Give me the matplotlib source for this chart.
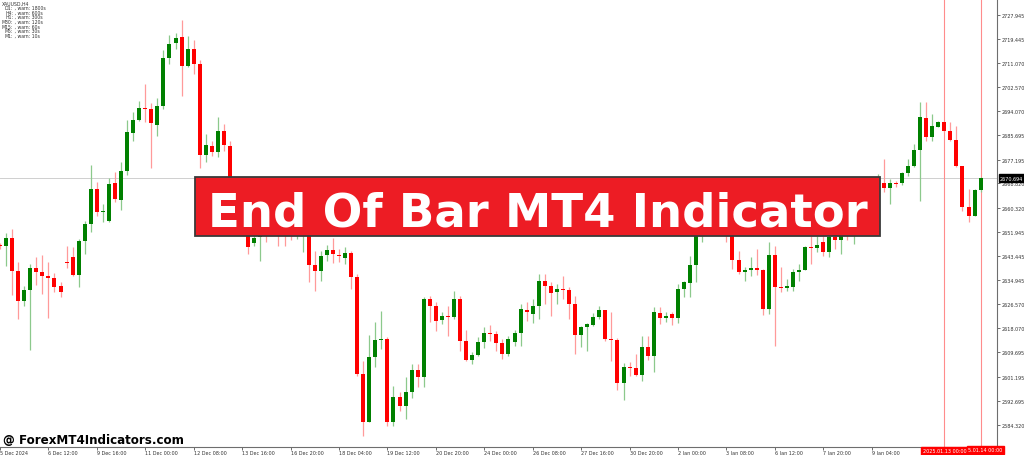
import numpy as np
import matplotlib
matplotlib.use('Agg')
import matplotlib.pyplot as plt
import matplotlib.transforms as mtransforms
from matplotlib.patches import Rectangle

# XAUUSD H4 candles
opens = [2647.2, 2646.8, 2649.7, 2638.3, 2627.8, 2631.6, 2639.1, 2637.9, 2636.5, 2635.6,
         2632.8, 2641.2, 2642.9, 2636.8, 2648.8, 2654.6, 2666.9, 2658.7, 2655.8, 2668.9,
         2663.0, 2673.3, 2686.5, 2691.2, 2695.4, 2694.9, 2689.4, 2695.8, 2712.8, 2717.9,
         2720.0, 2710.1, 2715.9, 2710.7, 2678.9, 2682.1, 2679.7, 2687.2, 2682.1, 2660.5,
         2664.0, 2656.0, 2647.8, 2650.0, 2655.0, 2652.0, 2656.0, 2655.0, 2651.0, 2650.3,
         2651.0, 2652.0, 2640.4, 2638.3, 2643.8, 2645.6, 2643.8, 2642.7, 2644.4, 2636.2,
         2602.1, 2585.4, 2607.9, 2614.0, 2614.3, 2585.4, 2593.9, 2590.8, 2595.9, 2603.6,
         2601.2, 2628.4, 2625.8, 2621.1, 2622.3, 2621.9, 2628.4, 2613.8, 2607.1, 2608.7,
         2613.2, 2616.5, 2616.1, 2612.9, 2609.1, 2613.2, 2616.3, 2624.6, 2623.1, 2625.8,
         2634.8, 2632.8, 2630.7, 2631.9, 2631.6, 2626.6, 2615.7, 2618.4, 2619.4, 2621.9,
         2624.5, 2614.3, 2614.0, 2598.9, 2604.6, 2604.2, 2601.8, 2611.4, 2608.5, 2623.4,
         2621.6, 2623.1, 2621.6, 2631.9, 2634.0, 2640.4, 2655.0, 2660.0, 2664.0, 2660.0,
         2663.0, 2656.0, 2642.1, 2637.7, 2638.6, 2639.2, 2638.6, 2624.8, 2643.8, 2632.7,
         2632.3, 2632.4, 2637.7, 2638.6, 2646.7, 2646.1, 2648.2, 2644.9, 2650.0, 2649.0,
         2652.5, 2651.5, 2653.0, 2658.0, 2662.0, 2666.0, 2669.0, 2667.1, 2669.0, 2668.9,
         2672.4, 2674.8, 2680.5, 2691.8, 2685.0, 2688.5, 2690.5, 2687.1, 2684.2, 2674.8,
         2660.5, 2657.5, 2666.6]
highs = [2648.0, 2651.3, 2652.9, 2641.4, 2633.0, 2640.6, 2643.0, 2643.9, 2641.2, 2637.5,
         2634.2, 2646.8, 2646.4, 2649.4, 2655.8, 2675.4, 2669.2, 2661.6, 2670.7, 2672.7,
         2676.2, 2691.2, 2693.7, 2697.8, 2703.7, 2696.9, 2698.9, 2715.6, 2720.9, 2721.4,
         2726.2, 2720.4, 2719.2, 2712.1, 2686.1, 2683.8, 2692.2, 2689.6, 2683.8, 2666.0,
         2666.0, 2657.5, 2652.0, 2657.0, 2658.0, 2657.0, 2658.0, 2657.0, 2654.0, 2654.0,
         2655.0, 2654.0, 2645.3, 2645.3, 2647.3, 2649.6, 2645.9, 2646.4, 2645.3, 2637.1,
         2606.7, 2615.7, 2620.2, 2624.3, 2614.9, 2598.0, 2595.6, 2600.9, 2605.6, 2605.6,
         2629.0, 2629.5, 2627.2, 2623.7, 2626.0, 2631.3, 2629.5, 2617.6, 2609.9, 2614.9,
         2618.4, 2619.3, 2617.3, 2614.3, 2615.5, 2617.5, 2626.6, 2627.2, 2628.4, 2637.1,
         2637.1, 2634.2, 2633.6, 2636.3, 2632.4, 2629.3, 2619.0, 2620.0, 2623.4, 2626.0,
         2624.5, 2623.7, 2614.6, 2605.9, 2606.2, 2609.1, 2615.5, 2615.5, 2625.4, 2625.4,
         2623.7, 2623.9, 2633.6, 2634.8, 2643.5, 2657.0, 2662.0, 2666.0, 2666.0, 2665.0,
         2664.5, 2657.0, 2645.3, 2639.4, 2642.9, 2645.9, 2638.9, 2648.2, 2647.0, 2639.4,
         2635.4, 2638.9, 2640.6, 2647.0, 2650.5, 2650.5, 2650.5, 2652.0, 2652.0, 2655.0,
         2654.0, 2655.0, 2660.0, 2664.0, 2668.0, 2672.0, 2677.4, 2670.4, 2669.8, 2673.0,
         2677.4, 2682.6, 2697.5, 2697.5, 2693.2, 2690.8, 2690.8, 2690.2, 2689.1, 2674.8,
         2666.9, 2666.9, 2671.2]
lows = [2646.0, 2640.0, 2629.9, 2621.3, 2626.0, 2610.5, 2633.2, 2630.1, 2621.7, 2630.7,
        2628.9, 2639.1, 2636.3, 2632.4, 2644.1, 2651.7, 2657.3, 2655.2, 2655.4, 2662.2,
        2659.5, 2671.9, 2683.6, 2690.7, 2690.5, 2674.1, 2685.6, 2694.9, 2710.7, 2716.0,
        2699.6, 2709.5, 2707.2, 2674.1, 2676.2, 2678.3, 2678.0, 2680.3, 2658.0, 2658.0,
        2654.0, 2644.1, 2647.0, 2641.8, 2648.2, 2651.0, 2647.0, 2646.8, 2649.0, 2649.5,
        2644.7, 2634.2, 2631.0, 2634.8, 2641.8, 2641.0, 2641.2, 2640.6, 2631.9, 2601.5,
        2580.3, 2585.2, 2604.4, 2610.8, 2584.0, 2584.0, 2589.2, 2586.3, 2593.5, 2597.4,
        2597.4, 2620.2, 2617.0, 2619.6, 2615.5, 2621.3, 2610.3, 2606.8, 2605.6, 2608.5,
        2611.2, 2613.8, 2610.3, 2607.4, 2608.5, 2612.0, 2612.0, 2620.8, 2620.0, 2621.3,
        2626.6, 2622.5, 2626.6, 2628.4, 2621.3, 2609.1, 2611.4, 2610.3, 2619.0, 2621.3,
        2613.8, 2606.8, 2596.6, 2593.1, 2601.5, 2601.5, 2599.7, 2607.0, 2602.7, 2619.6,
        2620.2, 2619.3, 2620.0, 2628.9, 2628.9, 2634.2, 2648.4, 2657.0, 2655.0, 2657.0,
        2648.2, 2638.9, 2637.1, 2634.8, 2636.5, 2636.8, 2622.9, 2623.1, 2612.0, 2630.7,
        2631.3, 2631.3, 2634.8, 2638.6, 2640.6, 2644.7, 2643.5, 2643.0, 2646.0, 2644.1,
        2649.0, 2647.6, 2651.0, 2656.0, 2660.0, 2664.0, 2665.7, 2661.6, 2667.5, 2668.3,
        2671.6, 2674.5, 2662.8, 2683.8, 2683.8, 2688.5, 2686.7, 2683.8, 2674.5, 2659.3,
        2655.2, 2657.3, 2665.7]
closes = [2646.8, 2649.7, 2638.3, 2627.8, 2631.6, 2639.1, 2637.7, 2636.5, 2635.6, 2632.4,
          2630.7, 2640.8, 2636.8, 2648.8, 2654.6, 2666.9, 2658.7, 2659.2, 2668.6, 2663.4,
          2673.3, 2686.7, 2691.2, 2695.3, 2695.0, 2689.9, 2695.8, 2712.8, 2717.7, 2719.8,
          2710.1, 2715.9, 2710.7, 2678.9, 2682.3, 2679.7, 2687.2, 2682.3, 2660.5, 2664.0,
          2656.0, 2646.7, 2649.7, 2655.0, 2652.0, 2655.0, 2654.0, 2653.0, 2650.3, 2652.0,
          2653.0, 2640.4, 2638.3, 2643.5, 2645.6, 2644.1, 2643.3, 2644.4, 2636.2, 2602.1,
          2585.4, 2607.9, 2614.1, 2614.3, 2585.4, 2593.9, 2590.8, 2595.9, 2603.6, 2601.2,
          2628.4, 2625.8, 2620.5, 2622.3, 2621.9, 2628.4, 2613.8, 2607.1, 2608.7, 2613.2,
          2616.3, 2616.1, 2612.9, 2609.1, 2614.3, 2616.3, 2624.8, 2623.7, 2625.8, 2634.8,
          2632.8, 2630.5, 2631.9, 2631.5, 2626.6, 2615.7, 2618.4, 2619.6, 2621.9, 2624.5,
          2614.3, 2614.0, 2598.9, 2604.4, 2604.2, 2601.8, 2611.4, 2608.5, 2623.7, 2621.6,
          2622.5, 2621.6, 2631.9, 2634.2, 2640.4, 2655.0, 2660.0, 2664.0, 2660.0, 2663.0,
          2656.0, 2642.1, 2637.7, 2638.6, 2639.1, 2638.4, 2624.8, 2643.8, 2632.4, 2632.3,
          2632.8, 2637.7, 2638.6, 2646.4, 2646.1, 2647.3, 2644.9, 2650.0, 2649.0, 2652.5,
          2651.5, 2653.0, 2658.0, 2662.0, 2666.0, 2669.0, 2667.1, 2669.0, 2668.6, 2672.4,
          2674.8, 2680.5, 2692.0, 2685.0, 2688.8, 2690.5, 2687.1, 2684.2, 2674.8, 2660.5,
          2657.5, 2666.6, 2670.694]

price_ticks = [2727.945, 2719.445, 2711.070, 2702.570, 2694.070, 2685.695, 2677.195,
               2668.820, 2660.320, 2651.945, 2643.445, 2634.945, 2626.570, 2618.070,
               2609.695, 2601.195, 2592.695, 2584.320]
time_tick_bars = [0, 8, 16, 24, 32, 40, 48, 56, 64, 72, 80, 88, 96, 104, 112, 120, 128, 136, 144]
time_tick_labels = ['5 Dec 2024', '6 Dec 12:00', '9 Dec 16:00', '11 Dec 00:00', '12 Dec 08:00',
                    '13 Dec 16:00', '16 Dec 20:00', '18 Dec 04:00', '19 Dec 12:00', '20 Dec 20:00',
                    '24 Dec 00:00', '26 Dec 08:00', '27 Dec 16:00', '30 Dec 20:00', '2 Jan 00:00',
                    '3 Jan 08:00', '6 Jan 12:00', '7 Jan 20:00', '9 Jan 04:00']
bid = 2670.694
vline_bars = [156, 162]
# the second tag is partly hidden under the first one in the screenshot
vline_labels = ['2025.01.13 00:00', '5.01.14 00:00']
info_lines = [('D1:', ' , warn: 1800s'), ('H4:', ' , warn: 600s'), ('H1:', ' , warn: 300s'),
              ('M30:', ' , warn: 120s'), ('M15:', ' , warn: 60s'), ('M5:', ' , warn: 30s'),
              ('M1:', ' , warn: 10s')]

W, H = 1024, 456
fig = plt.figure(figsize=(W / 100, H / 100), dpi=100)
ax = fig.add_axes([0, 1 - 447.5 / H, 997 / W, 447.5 / H])
ax.set_xlim(0.115, 164.7)
ax.set_ylim(2576.68, 2733.44)

o = np.array(opens); c = np.array(closes)
hi = np.array(highs); lo = np.array(lows)
x = np.arange(len(o))
up = c >= o
body_col = np.where(up, '#008000', '#ff0000')
wick_col = np.where(up, '#8cc98c', '#ff9a9a')

ax.axhline(bid, color='#cfcfcf', lw=0.7, zorder=0)
for b in vline_bars:
    ax.axvline(b, color='#ff8c8c', lw=0.8, zorder=0.5)

ax.vlines(x, lo, hi, colors=wick_col, lw=0.9, zorder=1)
ax.bar(x, np.maximum(np.abs(c - o), 0.35), bottom=np.minimum(o, c), width=0.66,
       color=body_col, lw=0, zorder=2)

# axes look like MT4
for s in ['top', 'left']:
    ax.spines[s].set_visible(False)
for s in ['right', 'bottom']:
    ax.spines[s].set_color('#6e6e6e')
    ax.spines[s].set_linewidth(0.8)
ax.yaxis.tick_right()
ax.set_yticks(price_ticks)
ax.set_yticklabels([f'{p:.3f}' for p in price_ticks])
ax.tick_params(axis='y', length=2, width=0.5, pad=1.5, labelsize=3.5, colors='#333333')
ax.set_xticks(time_tick_bars)
ax.set_xticklabels(time_tick_labels)
ax.tick_params(axis='x', length=2, width=0.5, pad=0.8, labelsize=3.5, colors='#333333')
for lbl in ax.get_xticklabels():
    lbl.set_horizontalalignment('left')

# current price tag on the price scale
ytrans = mtransforms.blended_transform_factory(ax.transAxes, ax.transData)
ax.text(1.003, bid, f'{bid:.3f}', transform=ytrans, fontsize=3.5, color='white',
        va='center', ha='left', clip_on=False, zorder=5,
        bbox=dict(boxstyle='square,pad=0.25', fc='black', ec='black'))

# red time tags for the vertical lines
xtrans = mtransforms.blended_transform_factory(ax.transData, ax.transAxes)
ax.text(vline_bars[0], -0.004, vline_labels[0], transform=xtrans, fontsize=3.5, color='white',
        ha='center', va='top', clip_on=False, zorder=6,
        bbox=dict(boxstyle='square,pad=0.3', fc='#ff0000', ec='#ff0000'))
fig.text(968 / W, 1 - 448.3 / H, vline_labels[1], fontsize=3.5, color='white',
         ha='left', va='top', zorder=6,
         bbox=dict(boxstyle='square,pad=0.3', fc='#ff0000', ec='#ff0000'))

# indicator info text, top left
fig.text(2 / W, 1 - 3.8 / H, 'XAUUSD,H4', fontsize=3.3, color='#333333', va='center', ha='left')
for i, (a, b) in enumerate(info_lines):
    yy = 1 - (3.8 + 4.65 * (i + 1)) / H
    fig.text(13 / W, yy, a, fontsize=3.3, color='#333333', va='center', ha='right')
    fig.text(13 / W, yy, b, fontsize=3.3, color='#333333', va='center', ha='left')

# banner
fig.add_artist(Rectangle((194.5 / W, 1 - 237 / H), (880 - 194.5) / W, 59 / H,
                         transform=fig.transFigure, fc='#ed1c24', ec='#3a3a3a', lw=1.3, zorder=10))
fig.text(537.5 / W, 1 - 226.7 / H, 'End Of Bar MT4 Indicator', fontsize=33.6, fontweight='bold',
         family='DejaVu Sans', color='white', ha='center', va='baseline', zorder=11)

fig.text(3 / W, 1 - 444.5 / H, '@ ForexMT4Indicators.com', fontsize=8.6, fontweight='bold',
         family='DejaVu Sans', color='black', ha='left', va='baseline', zorder=11)

plt.savefig('out.png', dpi=100)
